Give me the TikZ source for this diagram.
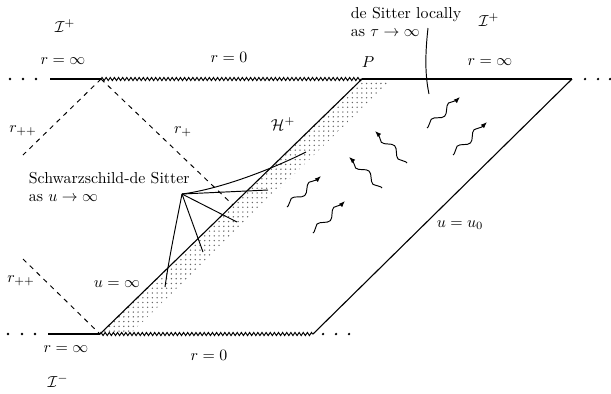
\documentclass[tikz,border=0pt]{standalone}
\usepackage{amsmath}
\usetikzlibrary{arrows.meta, decorations.pathmorphing, patterns, positioning}

\begin{document}
\begin{tikzpicture}[x=0.63pt, y=-0.63pt,
  lbl/.style  ={inner sep=1pt, font=\normalsize},
  txt/.style  ={inner sep=1pt, align=left,
                font=\fontsize{10}{11}\selectfont},
  bnd/.style  ={line width=0.7pt},
  sing/.style ={line width=0.6pt, decorate,
                decoration={zigzag, segment length=2.6pt, amplitude=1pt}},
  hor/.style  ={dashed, line width=0.6pt},
  ptr/.style  ={line width=0.6pt},
  wav/.style  ={-{Latex[length=4pt, width=3pt]}, line width=0.6pt, decorate,
                decoration={snake, amplitude=2.2pt, segment length=15pt,
                            pre length=1pt, post length=3pt}},
]
\useasboundingbox (0,0) rectangle (611,393);

%% ═══════════════ Corners ═══════════════
\coordinate (TLe) at (50,79);
\coordinate (TL)  at (101,79);
\coordinate (P)   at (362,79);
\coordinate (SE)  at (392,79);
\coordinate (TR)  at (572,79);
\coordinate (BLe) at (48,334);
\coordinate (BL)  at (100,334);
\coordinate (SW)  at (130,334);
\coordinate (BR)  at (313,334);

%% shaded band along the horizon
\fill[pattern=dots, pattern color=black!60] (BL) -- (P) -- (SE) -- (SW) -- cycle;

%% ═══════════════ Boundaries ═══════════════
\draw[bnd]  (TLe) -- (TL);
\draw[sing] (TL)  -- (P);
\draw[bnd]  (P)   -- (TR);
\draw[bnd]  (BLe) -- (BL);
\draw[sing] (BL)  -- (BR);
\draw[bnd]  (BL)  -- (P);
\draw[bnd]  (BR)  -- (TR);

% horizons (dashed)
\draw[hor] (TL) -- (23,155);
\draw[hor] (TL) -- (233,205);
\draw[hor] (23,259) -- (BL);

% continuation dots
\foreach \x in {10,23,36}    \fill (\x,79)  circle (0.8pt);
\foreach \x in {585,598,610} \fill (\x,79)  circle (0.8pt);
\foreach \x in {8,22,35}     \fill (\x,334) circle (0.8pt);
\foreach \x in {323,336,349} \fill (\x,334) circle (0.8pt);

%% ═══════════════ Labels ═══════════════
\node[lbl] (ItL)  at (65,26)   {$\mathcal{I}^+$};
\node[lbl] (rtL)  at (63,61)   {$r=\infty$};
\node[lbl] (r0t)  at (229,57)  {$r=0$};
\node[lbl] (rppT) at (23,131)  {$r_{++}$};
\node[lbl] (rp)   at (183,132) {$r_+$};
\node[lbl] (Hp)   at (283,124) {$\mathcal{H}^+$};
\node[lbl] (ItR)  at (489,20)  {$\mathcal{I}^+$};
\node[lbl] (Plbl) at (368,62)  {$P$};
\node[lbl] (rtR)  at (490,62)  {$r=\infty$};
\node[lbl] (uu0)  at (460,225) {$u=u_0$};
\node[lbl] (uinf) at (117,284) {$u=\infty$};
\node[lbl] (rppB) at (21,281)  {$r_{++}$};
\node[lbl] (rbL)  at (66,349)  {$r=\infty$};
\node[lbl] (r0b)  at (209,355) {$r=0$};
\node[lbl] (IbL)  at (58,381)  {$\mathcal{I}^-$};

\node[txt, anchor=west] (SdS) at (27,187) {Schwarzschild-de Sitter\\as $u\to\infty$};
\node[txt, anchor=west] (dSl) at (349,22) {de Sitter locally\\as $\tau\to\infty$};

%% ═══ pointers ═══
\coordinate (fan) at (182,194);
\draw[ptr] (fan) .. controls (220,189) and (270,170) .. (306,152);
\draw[ptr] (fan) -- (268,190);
\draw[ptr] (fan) -- (237,222);
\draw[ptr] (fan) -- (203,252);
\draw[ptr] (fan) .. controls (176,225) and (169,258) .. (165,287);

\draw[ptr] (428,28) .. controls (425,55) and (425,75) .. (429,94);

%% ═══ radiation ═══
\foreach \a/\b/\c/\d in {407/163/375/131, 382/188/349/157,
                         427/128/460/97,  453/155/487/122,
                         287/207/321/176, 313/233/345/201}
  \draw[wav] (\a,\b) -- (\c,\d);

\end{tikzpicture}
\end{document}
